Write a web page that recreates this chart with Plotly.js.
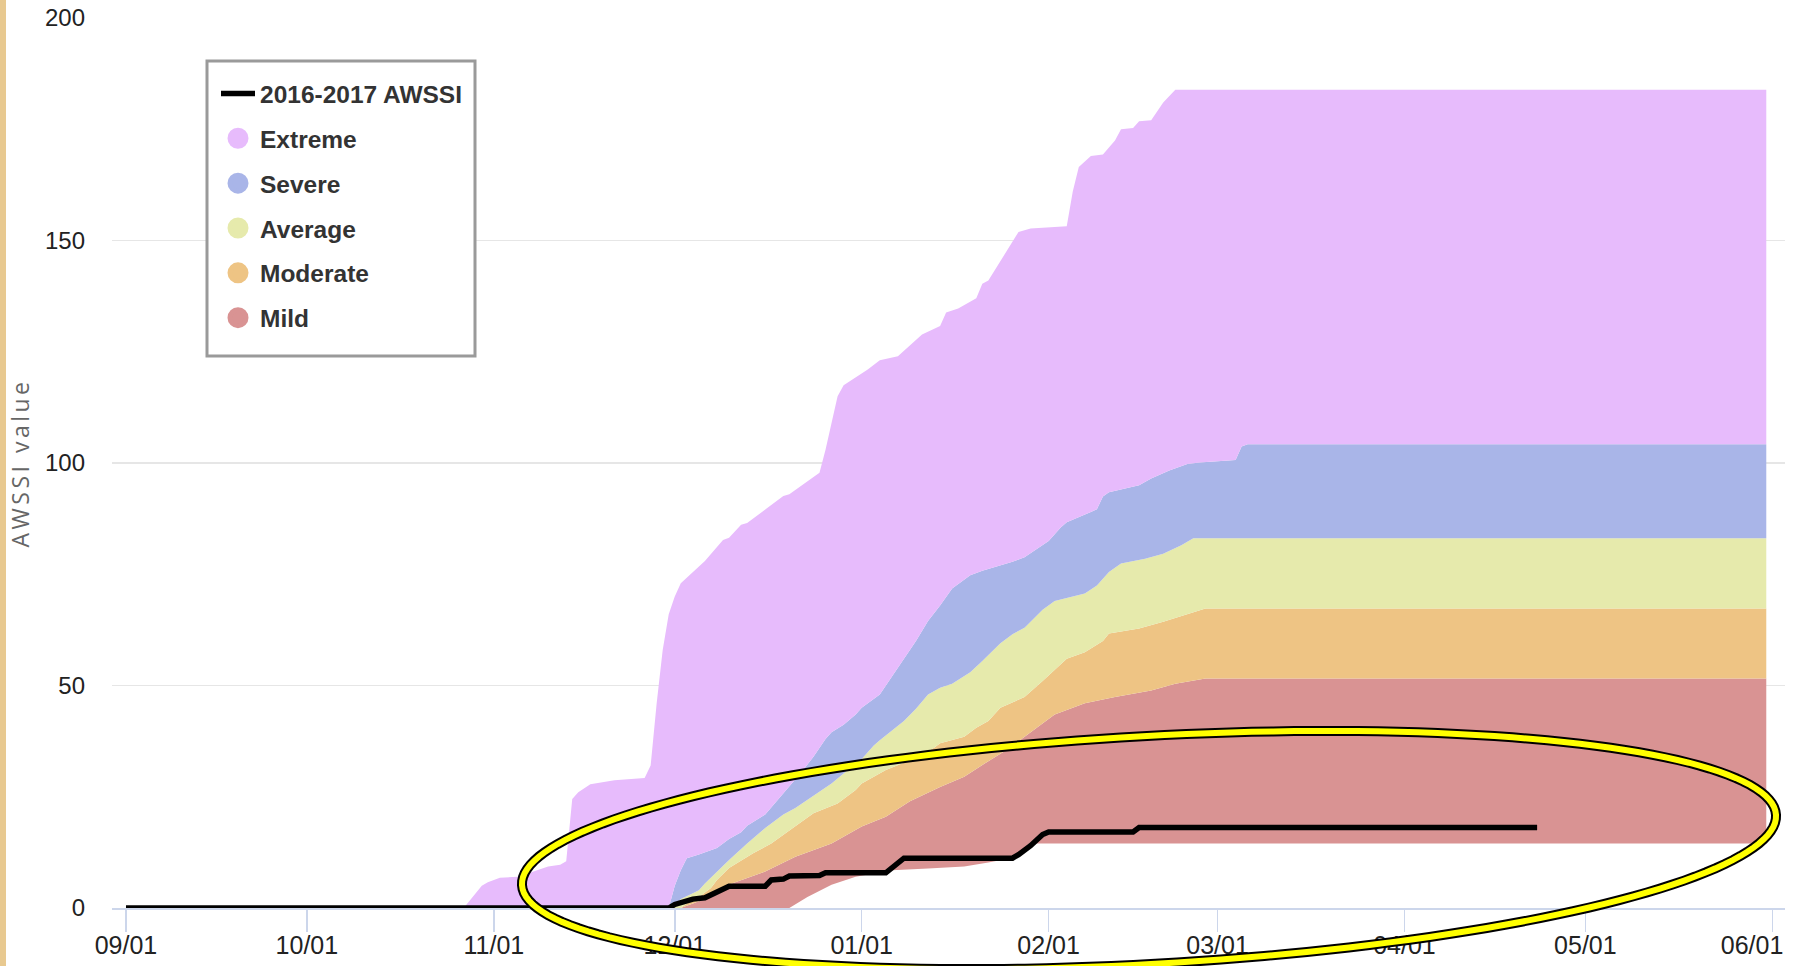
<!DOCTYPE html>
<html><head><meta charset="utf-8">
<script src="https://cdn.plot.ly/plotly-3.0.1.min.js"></script>
<style>html,body{margin:0;padding:0;background:#fff;overflow:hidden}#chart{width:1798px;height:966px}
.g-ytitle text{letter-spacing:3.5px}</style>
</head><body><div id="chart"></div>
<script>
// ---------- data ----------
const tickDates  = ['2016-09-01','2016-10-01','2016-11-01','2016-12-01','2017-01-01','2017-02-01','2017-03-01','2017-04-01','2017-05-01','2017-06-01'];
const tickLabels = ['09/01','10/01','11/01','12/01','01/01','02/01','03/01','04/01','05/01','06/01'];
const yTicks = [0, 50, 100, 150, 200];

// Mild band lower edge
const mildLowDates = ['2016-09-01','2016-12-20','2016-12-23','2016-12-27','2016-12-31','2017-01-06','2017-01-12','2017-01-18','2017-01-22','2017-01-25','2017-01-27','2017-01-30','2017-05-31'];
const mildLowVals  = [0,0,2.5,5.2,7,8.5,8.9,9.3,10.2,11,12.5,14.5,14.5];

// Mild / Moderate edge
const mildTopDates = ['2016-09-01','2016-12-02','2016-12-03','2016-12-05','2016-12-08','2016-12-10','2016-12-16','2016-12-21','2016-12-27','2017-01-01','2017-01-05','2017-01-09','2017-01-14','2017-01-18','2017-01-22','2017-01-25','2017-01-27','2017-02-02','2017-02-07','2017-02-12','2017-02-18','2017-02-22','2017-02-27','2017-05-31'];
const mildTopVals  = [0,0,0.5,1.5,3.2,5.3,8.2,11.5,14.5,18.3,20.5,24,27.2,29.5,33,35.5,37.5,43.5,46,47.4,48.9,50.4,51.6,51.6];

// Moderate / Average edge
const moderateTopDates = ['2016-09-01','2016-12-02','2016-12-03','2016-12-05','2016-12-07','2016-12-08','2016-12-10','2016-12-14','2016-12-17','2016-12-21','2016-12-24','2016-12-28','2016-12-31','2017-01-01','2017-01-05','2017-01-09','2017-01-13','2017-01-14','2017-01-18','2017-01-20','2017-01-22','2017-01-24','2017-01-28','2017-01-31','2017-02-04','2017-02-07','2017-02-10','2017-02-11','2017-02-16','2017-02-20','2017-02-25','2017-02-27','2017-05-31'];
const moderateTopVals  = [0,0,1,2.5,4.5,6.3,9,12.3,14.5,18.3,21.3,23.5,26.5,28,31,33.2,36,37,38.5,40.5,42,45,47.4,51,56,57.5,60,61.7,62.8,64.3,66.5,67.3,67.3];

// Average / Severe edge
const averageTopDates = ['2016-09-01','2016-11-30','2016-12-01','2016-12-02','2016-12-04','2016-12-05','2016-12-06','2016-12-08','2016-12-10','2016-12-11','2016-12-13','2016-12-16','2016-12-19','2016-12-21','2016-12-23','2016-12-25','2016-12-27','2016-12-29','2017-01-01','2017-01-03','2017-01-04','2017-01-08','2017-01-10','2017-01-12','2017-01-14','2017-01-16','2017-01-19','2017-01-21','2017-01-24','2017-01-26','2017-01-28','2017-01-31','2017-02-02','2017-02-07','2017-02-09','2017-02-11','2017-02-13','2017-02-17','2017-02-20','2017-02-23','2017-02-25','2017-05-31'];
const averageTopVals  = [0,0,0.5,2,3.3,4,5.5,8.2,10.8,12,14.5,18,21,22.5,24.3,26.2,28,30.2,33.5,36.5,37.7,42,44.8,48,49.5,50.4,53,55.5,59.5,61.5,63,67,69,70.7,72.5,75.5,77.4,78.5,79.6,81.5,83.1,83.1];

// Severe / Extreme edge
const severeTopDates = ['2016-09-01','2016-11-30','2016-12-01','2016-12-02','2016-12-03','2016-12-05','2016-12-08','2016-12-10','2016-12-12','2016-12-13','2016-12-16','2016-12-19','2016-12-21','2016-12-22','2016-12-24','2016-12-26','2016-12-27','2016-12-29','2016-12-31','2017-01-01','2017-01-04','2017-01-06','2017-01-08','2017-01-10','2017-01-12','2017-01-14','2017-01-16','2017-01-19','2017-01-21','2017-01-23','2017-01-26','2017-01-28','2017-01-31','2017-02-01','2017-02-03','2017-02-04','2017-02-08','2017-02-09','2017-02-10','2017-02-11','2017-02-16','2017-02-18','2017-02-21','2017-02-24','2017-02-26','2017-03-04','2017-03-05','2017-03-06','2017-05-31'];
const severeTopVals  = [0,0,5,8.5,11.2,12,13.5,15.5,17,18.5,21,25.7,29,30.5,34,38,39.5,41.2,43.5,45,48,52,56,60,64.5,68,71.8,74.8,75.8,76.6,77.8,78.8,81.5,82.5,85.5,86.7,89,89.6,92.5,93.4,95,96.5,98.3,99.8,100.1,100.7,103.7,104.2,104.2];

// Extreme band upper edge
const extremeTopDates = ['2016-09-01','2016-10-27','2016-10-30','2016-10-31','2016-11-02','2016-11-05','2016-11-06','2016-11-10','2016-11-12','2016-11-13','2016-11-14','2016-11-15','2016-11-17','2016-11-21','2016-11-26','2016-11-27','2016-11-28','2016-11-29','2016-11-30','2016-12-01','2016-12-02','2016-12-04','2016-12-06','2016-12-09','2016-12-10','2016-12-12','2016-12-13','2016-12-19','2016-12-20','2016-12-25','2016-12-26','2016-12-27','2016-12-28','2016-12-29','2017-01-02','2017-01-04','2017-01-07','2017-01-11','2017-01-14','2017-01-15','2017-01-17','2017-01-20','2017-01-21','2017-01-22','2017-01-24','2017-01-26','2017-01-27','2017-01-29','2017-02-04','2017-02-05','2017-02-06','2017-02-08','2017-02-10','2017-02-12','2017-02-13','2017-02-15','2017-02-16','2017-02-18','2017-02-20','2017-02-22','2017-05-31'];
const extremeTopVals  = [0,0,5,5.8,6.8,7,7.5,9.3,9.7,10.5,24.5,26,27.8,28.7,29.2,32,46,58,66,70,73,75.5,78,82.7,83.2,86.1,86.5,92.6,93,97.8,103,109,115,117.5,121,123.1,124,128.9,130.8,133.8,134.7,137,140.3,141,145.4,150,151.9,152.7,153.2,161,166.5,169,169.3,172.5,175,175.3,176.8,177,181,183.9,183.9];

// 2016-2017 AWSSI (observed)
const awssiDates = ['2016-09-01','2016-11-30','2016-12-01','2016-12-03','2016-12-04','2016-12-06','2016-12-08','2016-12-10','2016-12-16','2016-12-17','2016-12-19','2016-12-20','2016-12-25','2016-12-26','2017-01-05','2017-01-06','2017-01-08','2017-01-26','2017-01-27','2017-01-29','2017-01-31','2017-02-01','2017-02-15','2017-02-16','2017-04-23'];
const awssiVals  = [0,0,0.8,1.5,2,2.3,3.6,4.9,4.9,6.3,6.5,7.2,7.3,7.9,7.9,9,11.2,11.2,12,14,16.5,17.1,17.1,18.1,18.1];

const seriesNames  = ['Extreme','Severe','Average','Moderate','Mild'];
const seriesColors = ['#e7bbfc','#a9b5e8','#e6eaac','#eec484','#d99393'];

// ---------- chart ----------
const W = 1798, H = 966;
const M = {l:112, r:13, t:18, b:58};
const PW = W - M.l - M.r, PH = H - M.t - M.b;
const fam = '"Liberation Sans",Arial,sans-serif';

const bounds = [
  [mildLowDates, mildLowVals, null],
  [mildTopDates, mildTopVals, seriesColors[4]],
  [moderateTopDates, moderateTopVals, seriesColors[3]],
  [averageTopDates, averageTopVals, seriesColors[2]],
  [severeTopDates, severeTopVals, seriesColors[1]],
  [extremeTopDates, extremeTopVals, seriesColors[0]]
];
const traces = bounds.map(([x, y, c], i) => ({
  type:'scatter', mode:'lines', x:x, y:y,
  line:{width:0, color:c || 'rgba(0,0,0,0)'},
  fill: i === 0 ? 'none' : 'tonexty',
  fillcolor: c || 'rgba(0,0,0,0)',
  showlegend:false, hoverinfo:'skip'
}));
traces.push({
  type:'scatter', mode:'lines', name:'2016-2017 AWSSI', x:awssiDates, y:awssiVals,
  line:{color:'#000', width:5.5}, legendrank:1, legendgroup:'a'
});
seriesNames.forEach((n, i) => traces.push({
  type:'scatter', mode:'markers', name:n, x:[null], y:[null],
  marker:{color:seriesColors[i], size:16, symbol:'circle', line:{color:seriesColors[i], width:5}},
  legendrank:i + 2, legendgroup:'g' + i, hoverinfo:'skip'
}));

// annotation ellipse (pixel geometry -> paper coords)
const ell = {cx:1149, cy:850, a:628, b:114, rot:-3.2};
const px = x => (x - M.l) / PW, py = y => (M.t + PH - y) / PH;
let path = '';
const th = ell.rot * Math.PI / 180;
for (let k = 0; k <= 180; k++) {
  const t = 2 * Math.PI * k / 180;
  const x = ell.cx + ell.a * Math.cos(th) * Math.cos(t) - ell.b * Math.sin(th) * Math.sin(t);
  const y = ell.cy + ell.a * Math.sin(th) * Math.cos(t) + ell.b * Math.cos(th) * Math.sin(t);
  path += (k ? ' L' : 'M') + px(x).toFixed(5) + ',' + py(y).toFixed(5);
}
path += ' Z';

// legend frame (pixels)
const box = {x0:207, y0:61, x1:475, y1:356};

const layout = {
  width:W, height:H, margin:M,
  paper_bgcolor:'#fff', plot_bgcolor:'#fff',
  showlegend:true,
  xaxis:{
    type:'date', range:['2016-08-29 16:20','2017-06-03 02:30'],
    tickmode:'array', tickvals:tickDates, ticktext:tickLabels,
    ticks:'outside', ticklen:22, tickwidth:1.5, tickcolor:'#ccd6eb',
    ticklabelstandoff:-8, ticklabeloverflow:'allow',
    showgrid:false, zeroline:false, showline:true, linecolor:'#ccd6eb', linewidth:2,
    tickfont:{family:fam, size:25, color:'#222'}, fixedrange:true
  },
  yaxis:{
    range:[0,200], tickmode:'array', tickvals:yTicks,
    showgrid:true, gridcolor:'#e6e6e6', gridwidth:1.5, zeroline:false, showline:false,
    ticks:'', ticklabelstandoff:26,
    tickfont:{family:fam, size:24, color:'#222'},
    title:{text:'AWSSI value', font:{family:'"Open Sans","DejaVu Sans",sans-serif', size:23, color:'#666'}, standoff:8},
    fixedrange:true
  },
  legend:{
    x:px(box.x0 - 1), y:py(71), xanchor:'left', yanchor:'top',
    bgcolor:'rgba(0,0,0,0)', borderwidth:0,
    font:{family:fam, size:24.5, color:'#333', weight:'bold'},
    tracegroupgap:10, indentation:10, itemwidth:34
  },
  shapes:[
    {type:'rect', xref:'paper', yref:'paper', x0:px(0), x1:px(6), y0:py(H), y1:py(0), fillcolor:'#e8c990', line:{width:0}, layer:'above'},
    {type:'rect', xref:'paper', yref:'paper', x0:px(box.x0), x1:px(box.x1), y0:py(box.y1), y1:py(box.y0), fillcolor:'#fff', line:{color:'#9a9a9a', width:3}, layer:'above'},
    {type:'path', xref:'paper', yref:'paper', path:path, line:{color:'#000', width:10}, fillcolor:'rgba(0,0,0,0)', layer:'above'},
    {type:'path', xref:'paper', yref:'paper', path:path, line:{color:'#ffff00', width:6}, fillcolor:'rgba(0,0,0,0)', layer:'above'}
  ]
};
Plotly.newPlot('chart', traces, layout, {displayModeBar:false, staticPlot:true}).then(gd => {
  // keep the last date label inside the page, as the original chart does
  gd.querySelectorAll('.xtick text').forEach(t => {
    if (t.textContent === tickLabels[tickLabels.length - 1]) {
      t.setAttribute('text-anchor', 'end');
      t.setAttribute('dx', '11');
    }
  });
});
</script></body></html>
